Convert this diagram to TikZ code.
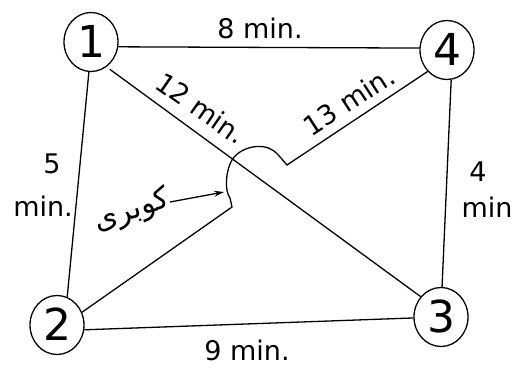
\documentclass[tikz,border=0pt]{standalone}
\usepackage{fontspec}
\setmainfont{DejaVu Sans}
\newfontfamily\arabicfont[Script=Arabic]{DejaVu Sans}
\TeXXeTstate=1
\usetikzlibrary{shapes.geometric,arrows.meta}
\begin{document}
\begin{tikzpicture}[x=1pt,y=-1pt, line width=1.3pt,
  vert/.style={draw, ellipse, inner sep=0pt, minimum width=54pt, minimum height=59pt,
    font=\fontsize{44}{44}\selectfont, text height=32pt, text depth=0pt},
  lbl/.style={font=\fontsize{27}{27}\selectfont, inner sep=0pt},
  edge/.style={draw, line width=1.3pt}]
\useasboundingbox (0,0) rectangle (522,371);
\node[vert] (n1) at (91,42) {1};
\node[vert] (n4) at (447,50) {4};
\node[vert] (n2) at (57,325) {2};
\node[vert] (n3) at (441,317) {3};
% edges
\draw[edge] (n1.-10) -- (n4.176);
\draw[edge] (n1.-94) -- (n2.70);
\draw[edge, shorten <=4pt] (n1.-58) -- (n3.135);
\draw[edge] (n2.-10) -- (n3.182);
\draw[edge] (n4.-82) -- (n3.88);
% bridge edge 2 -> 4
\coordinate (b1) at (232,207);
\coordinate (b2) at (230,198);
\coordinate (bx) at (232,160);
\coordinate (b3) at (287,165);
\draw[edge] (n2.27) -- (b1) -- (b2)
  .. controls (224,190) and (226,170) .. (bx)
  .. controls (240,147) and (262,142) .. (274,151)
  .. controls (280,156) and (284,162) .. (b3)
  -- (n4.-132);
% labels
\node[lbl] (l14) at (260,28) {8 min.};
\node[lbl, rotate=-35] (l13) at (201,108) {12 min.};
\node[lbl, rotate=33] (l24) at (349,101) {13 min.};
\node[lbl] (l12a) at (52,164) {5};
\node[lbl] (l12b) at (43,206) {min.};
\node[lbl] (l43a) at (478,172) {4};
\node[lbl] (l43b) at (487,207) {min};
\node[lbl] (l23) at (247,350) {9 min.};
\node[lbl, font=\fontsize{30}{30}\selectfont, rotate=18] (bridge) at (132,211) {\arabicfont\beginR کوبری\endR};
\coordinate (arrS) at (170,202);
\coordinate (arrE) at (224,192);
\draw[edge, -{Stealth[length=10pt,width=6pt]}] (arrS) -- (arrE);
\end{tikzpicture}
\end{document}
